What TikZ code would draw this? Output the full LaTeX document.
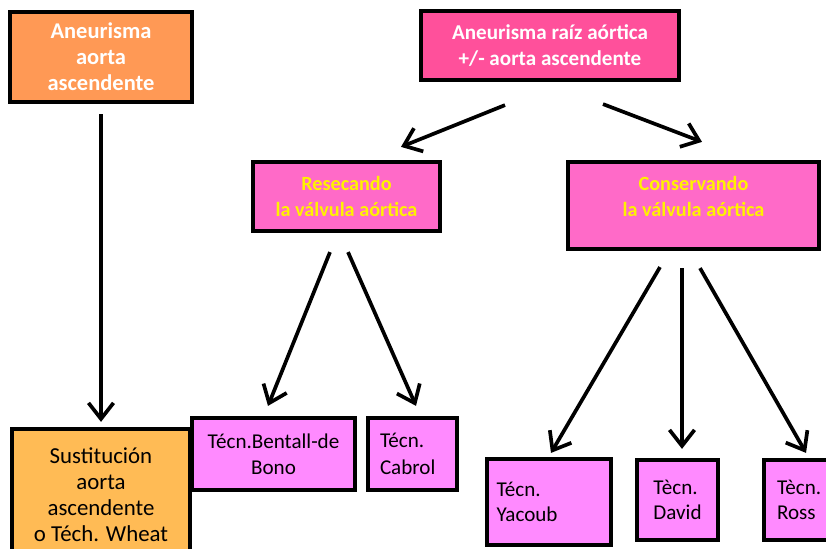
\documentclass[tikz,border=0pt]{standalone}
\usepackage{fontspec}
\setmainfont{Carlito}
\usepackage{tikz}
\usetikzlibrary{arrows.meta,positioning,calc}
\usepackage{xcolor}
\definecolor{aortaorange}{RGB}{255,153,85}
\definecolor{sustorange}{RGB}{255,187,85}
\definecolor{rootpink}{RGB}{255,80,155}
\definecolor{valvpink}{RGB}{255,106,200}
\definecolor{tecpink}{RGB}{255,138,255}

\begin{document}
\begin{tikzpicture}[font=\fontsize{12}{14.6}\selectfont,
    b/.style={rectangle, draw=black, line width=2.4pt, align=center, inner sep=2pt},
    top/.style={b, text=white, font=\fontsize{12}{14.6}\selectfont\bfseries},
    valv/.style={b, fill=valvpink, text=yellow, font=\fontsize{11.5}{14.6}\selectfont\bfseries,
              minimum height=1.38cm},
    tec/.style={b, fill=tecpink, align=left, font=\fontsize{12}{15}\selectfont},
    arr/.style={-{Straight Barb[length=3.2mm,width=5mm,line width=2.1pt]}, line width=2.1pt}]
\useasboundingbox (0,0) rectangle (16.52,-10.98);

% left column
\node[top, fill=aortaorange, font=\fontsize{12.8}{14.8}\selectfont\bfseries,
    minimum width=3.64cm, minimum height=1.8cm] (aorta) at (2.02,-1.14)
    {Aneurisma\\aorta\\ascendente};
\node[b, fill=sustorange, font=\fontsize{13}{14.8}\selectfont, minimum width=3.56cm, minimum height=2.64cm]
    (sust) at (2.02,-9.9)
    {Sustitución\\aorta\\ascendente\\o Téch. Wheat};
\draw[arr] ([yshift=-0.2cm]aorta.south) -- ([yshift=0.1cm]sust.north);

% root
\node[top, fill=rootpink, minimum width=5.16cm, minimum height=1.38cm] (root) at (11.0,-0.91)
    {Aneurisma raíz aórtica\\+/- aorta ascendente};
\node[valv, minimum width=3.74cm] (resec) at (6.93,-3.93) {Resecando\\la válvula aórtica};
\node[valv, minimum width=5.02cm, minimum height=1.74cm, text depth=0.36cm] (conserv) at (13.87,-4.11)
    {Conservando\\la válvula aórtica};
\draw[arr] ([xshift=-0.9cm,yshift=-0.46cm]root.south) -- ([xshift=1.09cm,yshift=0.26cm]resec.north);
\draw[arr] ([xshift=1.06cm,yshift=-0.44cm]root.south) -- ([xshift=0.17cm,yshift=0.36cm]conserv.north);

% resecando
\node[tec, align=center, minimum width=3.26cm, minimum height=1.44cm] (bentall) at (5.47,-9.08)
    {Técn.Bentall-de\\Bono};
\node[tec, minimum width=1.78cm, minimum height=1.44cm, text width=1.3cm] (cabrol) at (8.25,-9.08)
    {Técn.\\Cabrol};
\draw[arr] ([xshift=-0.33cm,yshift=-0.38cm]resec.south) -- ([xshift=-0.11cm,yshift=0.2cm]bentall.north);
\draw[arr] ([xshift=0.03cm,yshift=-0.38cm]resec.south) -- ([xshift=0.07cm,yshift=0.2cm]cabrol.north);

% conservando
\node[tec, font=\fontsize{12}{14}\selectfont, minimum width=2.48cm, minimum height=1.72cm,
    text width=2.1cm] (yacoub) at (10.98,-10.04) {Técn.\\Yacoub};
\node[tec, font=\fontsize{12}{14}\selectfont, minimum width=1.62cm, minimum height=1.6cm]
    (david) at (13.55,-10.0) {Tècn.\\David};
\node[tec, font=\fontsize{12}{14}\selectfont, minimum width=1.52cm, minimum height=1.6cm,
    text width=1.0cm] (ross) at (16.04,-10.0) {Tècn.\\Ross};
\draw[arr] ([xshift=-0.67cm,yshift=-0.32cm]conserv.south) -- ([xshift=0.04cm,yshift=0.08cm]yacoub.north);
\draw[arr] ([xshift=-0.23cm,yshift=-0.34cm]conserv.south) -- ([xshift=0.09cm,yshift=0.18cm]david.north);
\draw[arr] ([xshift=0.13cm,yshift=-0.34cm]conserv.south) -- ([xshift=0.08cm,yshift=0.1cm]ross.north);
\end{tikzpicture}
\end{document}
